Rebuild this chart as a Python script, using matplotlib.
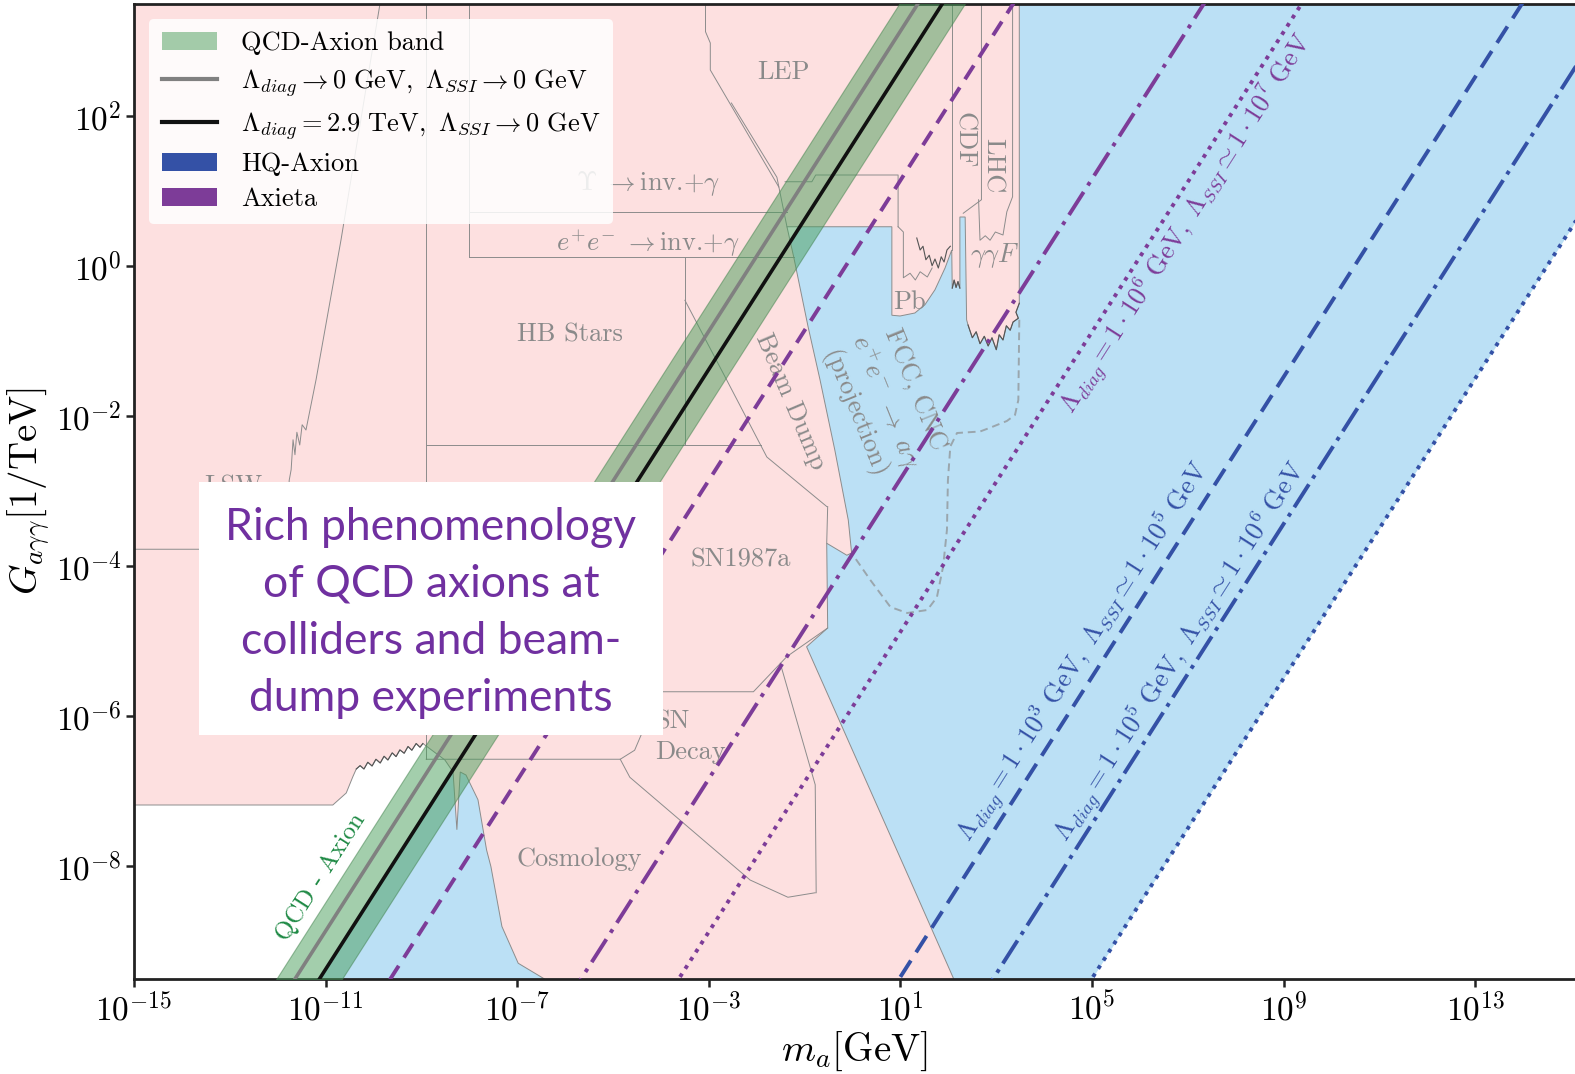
import numpy as np
import matplotlib
matplotlib.use("Agg")
import matplotlib.pyplot as plt
from matplotlib.patches import Patch, Rectangle
from matplotlib.lines import Line2D
from matplotlib.ticker import FixedLocator, NullLocator

plt.rcParams.update({
    "font.family": ["cmr10", "DejaVu Serif"],
    "mathtext.fontset": "cm",
    "axes.formatter.use_mathtext": True,
    "axes.unicode_minus": False,
})

# ---- plot range (log10 of m_a [GeV] and of G_agg [1/TeV]) ----
log_m_lim = (-15.0, 15.08)
log_g_lim = (-9.5, 3.5)
x_tick_exps = [-15, -11, -7, -3, 1, 5, 9, 13]
y_tick_exps = [-8, -6, -4, -2, 0, 2]

# ---- benchmark lines: log10 G = log10 m + offset ----
qcd_band_offsets = (1.16, 2.53)
qcd_limit_offset = 2.14          # Lambda_diag -> 0, Lambda_SSI -> 0
qcd_tev_offset = 1.63            # Lambda_diag = 2.9 TeV, Lambda_SSI -> 0
axieta_offsets = [0.15, -3.83, -5.87]
hq_offsets = [-10.47, -12.43, -14.49]

# ---- excluded region boundary (log10 m, log10 G), in pieces ----
top_edge_lm = [-15.2, 3.48]
top_edge_lg = [3.6, 3.6]
ggf_edge_lm = [3.48, 3.41, 3.46, 3.35, 3.29, 3.21, 3.14, 3.06, 3.00, 2.91, 2.83, 2.75, 2.66, 2.58, 2.50, 2.41, 2.38, 2.35]
ggf_edge_lg = [-0.49, -0.61, -0.69, -0.74, -0.85, -0.79, -0.98, -0.91, -1.11, -0.95, -1.06, -0.93, -1.03, -0.87, -0.95, -0.78, -0.71, 0.66]
cdf_edge_lm = [2.24, 2.24, 2.20, 2.16, 2.12, 2.08, 2.07]
cdf_edge_lg = [0.66, -0.29, -0.20, -0.28, -0.18, -0.29, 0.22]
pb_edge_lm = [1.93, 1.72, 1.51, 1.30, 0.99, 0.82, 0.82]
pb_edge_lg = [-0.02, -0.31, -0.51, -0.62, -0.66, -0.65, 0.53]
beamdump_edge_lm = [-1.37, -1.23, -0.93, -0.68, -0.37, -0.09, -0.02, -0.12, -0.54, -0.52, -0.96, 1.20, 2.25]
beamdump_edge_lg = [0.53, 0.13, -0.80, -1.51, -2.45, -3.38, -3.82, -3.85, -3.69, -4.82, -5.07, -8.18, -9.7]
cosmology_edge_lm = [-6.30, -6.43, -6.98, -7.32, -7.55, -7.64, -7.82, -8.07, -8.19, -8.26, -8.34, -8.51, -8.97]
cosmology_edge_lg = [-9.7, -9.5, -9.29, -8.80, -8.00, -7.78, -7.11, -6.78, -6.74, -7.51, -6.74, -6.58, -6.36]
lowmass_edge_lm = [-9.03, -9.11, -9.20, -9.28, -9.36, -9.45, -9.53, -9.61, -9.70, -9.78, -9.86, -9.95,
                   -10.03, -10.12, -10.20, -10.28, -10.36, -10.43, -10.57, -10.85, -15.2]
lowmass_edge_lg = [-6.41, -6.36, -6.45, -6.40, -6.49, -6.445, -6.535, -6.485, -6.58, -6.53, -6.62, -6.57,
                   -6.66, -6.61, -6.70, -6.655, -6.70, -6.80, -7.02, -7.18, -7.18]

# ---- inner boundaries between individual constraints ----
outlines = {
    "lsw": ([-9.84, -10.68, -11.20, -11.41, -11.49, -11.54, -11.60, -11.64, -11.68, -11.72, -11.76, -11.83, -15.2],
            [3.6, 0.35, -1.51, -2.18, -2.11, -2.38, -2.21, -2.51, -2.31, -2.71, -2.85, -3.77, -3.77]),
    "hb_left": ([-8.90, -8.90], [3.6, -6.57]),
    "hb_bottom": ([-8.90, -1.92], [-2.38, -2.38]),
    "hb_right": ([-3.50, -3.50], [0.13, -2.38]),
    "beamdump_left": ([-3.50, -2.63, -1.79, -0.54], [-0.45, -1.51, -2.54, -3.20]),
    "sn1987a_right": ([-0.52, -0.54], [-3.20, -3.69]),
    "sn1987a_bottom": ([-0.52, -1.37, -2.07, -5.27], [-4.82, -5.20, -5.67, -5.67]),
    "sn_decay_top": ([-8.90, -4.85, -4.55, -4.37, -4.28, -4.15], [-6.57, -6.57, -6.45, -6.18, -5.90, -5.67]),
    "cosmology_top": ([-4.85, -4.65, -2.14, -1.35, -0.78], [-6.57, -6.81, -8.18, -8.41, -8.35]),
    "sn_decay_right": ([-1.51, -0.78, -0.76], [-5.29, -6.91, -8.35]),
    "ee_left": ([-8.01, -8.01], [3.6, 0.13]),
    "ee_bottom": ([-8.01, -1.23], [0.13, 0.13]),
    "ee_top": ([-8.01, -1.37], [0.73, 0.73]),
    "upsilon": ([-1.41, -0.85, -0.77, 0.95, 0.95], [1.13, 1.13, 1.22, 1.22, 0.53]),
    "lep": ([-3.07, -3.07, -2.97, -2.97, -1.54], [3.6, 3.13, 2.98, 2.62, 1.06]),
    "beamdump_upper": ([-2.53, -1.58, -1.37], [2.18, 1.19, 0.53]),
    "cdf_left": ([2.08, 2.08], [3.6, 0.22]),
    "lhc_left": ([2.69, 2.69, 2.31], [3.6, 0.89, 0.71]),
    "lhc_bottom": ([3.34, 3.34, 3.22, 3.14, 2.98, 2.87, 2.77, 2.66, 2.63], [3.6, 0.93, 0.73, 0.42, 0.46, 0.35, 0.41, 0.35, 0.89]),
    "pb_inner": ([0.95, 1.06, 1.06, 1.20, 1.31, 1.41, 1.56, 1.66], [0.53, 0.46, -0.15, -0.09, -0.18, -0.07, -0.14, -0.02]),
}

# noisy measured limits drawn in a darker tone
noisy_curves = {
    "pb": ([1.34, 1.41, 1.47, 1.53, 1.60, 1.66, 1.72, 1.79, 1.85, 1.91, 1.97, 2.04],
           [0.38, 0.22, 0.27, 0.09, 0.15, 0.01, 0.10, -0.02, 0.13, 0.06, 0.22, 0.27]),
    "ggf": (ggf_edge_lm[:16], ggf_edge_lg[:16]),
    "cdf": (cdf_edge_lm[1:6], cdf_edge_lg[1:6]),
    "lowmass": ([-8.97] + lowmass_edge_lm[:17], [-6.36] + lowmass_edge_lg[:17]),
}

# FCC / CNC e+e- -> a gamma projection (dashed)
fcc_lm = [3.48, 3.46, 3.39, 3.22, 2.87, 2.66, 2.18, 2.04, 1.99, 1.97, 1.89, 1.76, 1.56, 1.14, 0.79, 0.37, -0.02]
fcc_lg = [-0.71, -1.78, -1.98, -2.06, -2.15, -2.20, -2.22, -2.40, -2.85, -3.51, -4.00, -4.41, -4.58, -4.62, -4.54, -4.18, -3.82]

# ---- region labels ----
region_texts = ["LEP", r"$\Upsilon\ \rightarrow$inv.$+\gamma$", r"$e^{+}e^{-}\ \rightarrow$inv.$+\gamma$",
                "HB Stars", "LSW", "Beam Dump", "SN1987a", "SN", "Decay", "Cosmology",
                "CDF", "LHC", r"$\gamma\gamma F$", "Pb",
                "FCC, CNC\n" + r"$e^{+}e^{-}\ \rightarrow\ a\gamma$" + "\n(projection)"]
region_lm = [-1.44, -4.27, -4.27, -5.91, -12.93, -1.29, -2.34, -4.12, -4.12, -5.70, 2.33, 2.92, 2.96, 1.18, 0.66]
region_lg = [2.59, 1.10, 0.31, -0.91, -2.94, -1.80, -3.91, -6.07, -6.47, -7.90, 1.68, 1.34, 0.14, -0.47, -1.81]
region_rot = [0, 0, 0, 0, 0, -67, 0, 0, 0, 0, -90, -90, 0, 0, -68]
region_ha = ["center"] * 7 + ["left", "left"] + ["center"] * 6

line_label_texts = [
    r"$\Lambda_{diag} = 1\cdot10^6\ \mathrm{GeV},\ \Lambda_{SSI} \simeq 1\cdot10^7\ \mathrm{GeV}$",
    r"$\Lambda_{diag} = 1\cdot10^3\ \mathrm{GeV},\ \Lambda_{SSI} \simeq 1\cdot10^5\ \mathrm{GeV}$",
    r"$\Lambda_{diag} = 1\cdot10^5\ \mathrm{GeV},\ \Lambda_{SSI} \simeq 1\cdot10^6\ \mathrm{GeV}$",
]
line_label_lm = [6.98, 4.83, 6.84]
line_label_lg = [0.57, -5.14, -5.14]

qcd_label_lm, qcd_label_lg = -11.10, -8.14

legend_labels = ["QCD-Axion band",
                 r"$\Lambda_{diag} \rightarrow 0\ \mathrm{GeV},\ \Lambda_{SSI} \rightarrow 0\ \mathrm{GeV}$",
                 r"$\Lambda_{diag} = 2.9\ \mathrm{TeV},\ \Lambda_{SSI} \rightarrow 0\ \mathrm{GeV}$",
                 "HQ-Axion", "Axieta"]

# ---- colours ----
pink = "#fde0e0"
sky = "#bbe0f5"
edge_gray = "#8c8c8c"
text_gray = "#8a8a8a"
band_green = "#499e5a"
hq_blue = "#3451a6"
axieta_purple = "#7d3c98"
qcd_text_green = "#1f8a45"

axieta_dashes = [(0, (4.2, 2.5)), (0, (7, 2, 1, 2)), (0, (1, 1.5))]
hq_dashes = [(0, (5, 2.5)), (0, (7, 1.8, 1, 1.8)), (0, (1, 1.5))]

# ---- figure ----
W, H = 1575, 1074
fig = plt.figure(figsize=(W / 100, H / 100), dpi=100)
ax = fig.add_axes([134 / W, 95 / H, 1 - 134 / W, 975 / H])
ax.set_xscale("log")
ax.set_yscale("log")
ax.set_xlim(10 ** log_m_lim[0], 10 ** log_m_lim[1])
ax.set_ylim(10 ** log_g_lim[0], 10 ** log_g_lim[1])

p = lambda a: 10 ** np.asarray(a, dtype=float)
g = np.logspace(log_g_lim[0] - 0.3, log_g_lim[1] + 0.3, 300)

# HQ-axion parameter space: between the 2.9 TeV QCD line and the outermost HQ line
ax.fill_betweenx(g, g / 10 ** qcd_tev_offset, g / 10 ** hq_offsets[-1], color=sky, lw=0, zorder=1)

# excluded region
ex_lm = top_edge_lm + ggf_edge_lm + cdf_edge_lm + pb_edge_lm + beamdump_edge_lm + cosmology_edge_lm + lowmass_edge_lm
ex_lg = top_edge_lg + ggf_edge_lg + cdf_edge_lg + pb_edge_lg + beamdump_edge_lg + cosmology_edge_lg + lowmass_edge_lg
ax.fill(p(ex_lm), p(ex_lg), facecolor=pink, edgecolor=edge_gray, lw=0.7, zorder=2)
for lm, lg in outlines.values():
    ax.plot(p(lm), p(lg), color=edge_gray, lw=0.7, zorder=2.5)
for lm, lg in noisy_curves.values():
    ax.plot(p(lm), p(lg), color="#555555", lw=0.8, zorder=2.6)
ax.plot(p(fcc_lm), p(fcc_lg), color="#9aa6ad", lw=1.4, ls=(0, (4, 2.5)), zorder=2.7)

for t, lm, lg, rot, ha in zip(region_texts, region_lm, region_lg, region_rot, region_ha):
    ax.text(10 ** lm, 10 ** lg, t, color=text_gray, fontsize=19, rotation=rot,
            rotation_mode="anchor", ha=ha, va="center", multialignment="center", zorder=3)

# QCD axion band and lines
ax.fill_betweenx(g, g / 10 ** qcd_band_offsets[1], g / 10 ** qcd_band_offsets[0],
                 facecolor=band_green, edgecolor="#3f7f4a", alpha=0.5, lw=0.8, zorder=4)
ax.plot(g / 10 ** qcd_limit_offset, g, color="#808080", lw=2.6, zorder=5)
ax.plot(g / 10 ** qcd_tev_offset, g, color="#111111", lw=2.6, zorder=5)

for off, ls in zip(axieta_offsets, axieta_dashes):
    ax.plot(g / 10 ** off, g, color=axieta_purple, lw=2.8, ls=ls, zorder=5)
for off, ls in zip(hq_offsets, hq_dashes):
    ax.plot(g / 10 ** off, g, color=hq_blue, lw=2.8, ls=ls, zorder=5)

# slope-one lines in screen angle
bbox = ax.get_position()
px_per_dec_x = bbox.width * W / (log_m_lim[1] - log_m_lim[0])
px_per_dec_y = bbox.height * H / (log_g_lim[1] - log_g_lim[0])
angle = np.degrees(np.arctan2(px_per_dec_y, px_per_dec_x))

for t, lm, lg, c in zip(line_label_texts, line_label_lm, line_label_lg, [axieta_purple, hq_blue, hq_blue]):
    ax.text(10 ** lm, 10 ** lg, t, color=c, fontsize=19, rotation=angle,
            rotation_mode="anchor", ha="center", va="center", zorder=6)
ax.text(10 ** qcd_label_lm, 10 ** qcd_label_lg, "QCD - Axion", color=qcd_text_green, fontsize=18,
        rotation=angle, rotation_mode="anchor", ha="center", va="center", zorder=6)

# axes styling
ax.xaxis.set_major_locator(FixedLocator([10.0 ** e for e in x_tick_exps]))
ax.yaxis.set_major_locator(FixedLocator([10.0 ** e for e in y_tick_exps]))
ax.xaxis.set_minor_locator(NullLocator())
ax.yaxis.set_minor_locator(NullLocator())
ax.set_xticklabels([r"$10^{%d}$" % e for e in x_tick_exps])
ax.set_yticklabels([r"$10^{%d}$" % e for e in y_tick_exps])
ax.tick_params(direction="out", length=6, width=1.8, labelsize=24, pad=3, color="#222222")
for s in ["left", "bottom", "top"]:
    ax.spines[s].set_linewidth(2)
    ax.spines[s].set_color("#222222")
ax.spines["right"].set_visible(False)
ax.set_xlabel(r"$m_a[\mathrm{GeV}]$", fontsize=28)
ax.set_ylabel(r"$G_{a\gamma\gamma}[1/\mathrm{TeV}]$", fontsize=28)
ax.xaxis.set_label_coords(0.5, -0.052)
ax.yaxis.set_label_coords(-0.057, 0.5)

# legend
handles = [Patch(facecolor=band_green, alpha=0.5, edgecolor="none"),
           Line2D([], [], color="#808080", lw=3),
           Line2D([], [], color="#111111", lw=3),
           Patch(facecolor=hq_blue, edgecolor="none"),
           Patch(facecolor=axieta_purple, edgecolor="none")]
leg = ax.legend(handles, legend_labels, loc="upper left", fontsize=19, frameon=True, framealpha=0.85,
                edgecolor="none", fancybox=True, handlelength=2.1, handletextpad=0.9,
                labelspacing=0.42, borderpad=0.5, borderaxespad=0.55)
leg.set_zorder(10)

# overlay note
fig.add_artist(Rectangle((199 / W, 1 - 735 / H), (663 - 199) / W, (735 - 482) / H,
                         transform=fig.transFigure, facecolor="white", edgecolor="none", zorder=20))
fig.text(431 / W, 1 - 613 / H, "Rich phenomenology\nof QCD axions at\ncolliders and beam-\ndump experiments",
         ha="center", va="center", family="Lato", fontsize=32, color="#7030a0",
         linespacing=1.49, zorder=21)

fig.savefig("out.png", dpi=100, facecolor="white")
